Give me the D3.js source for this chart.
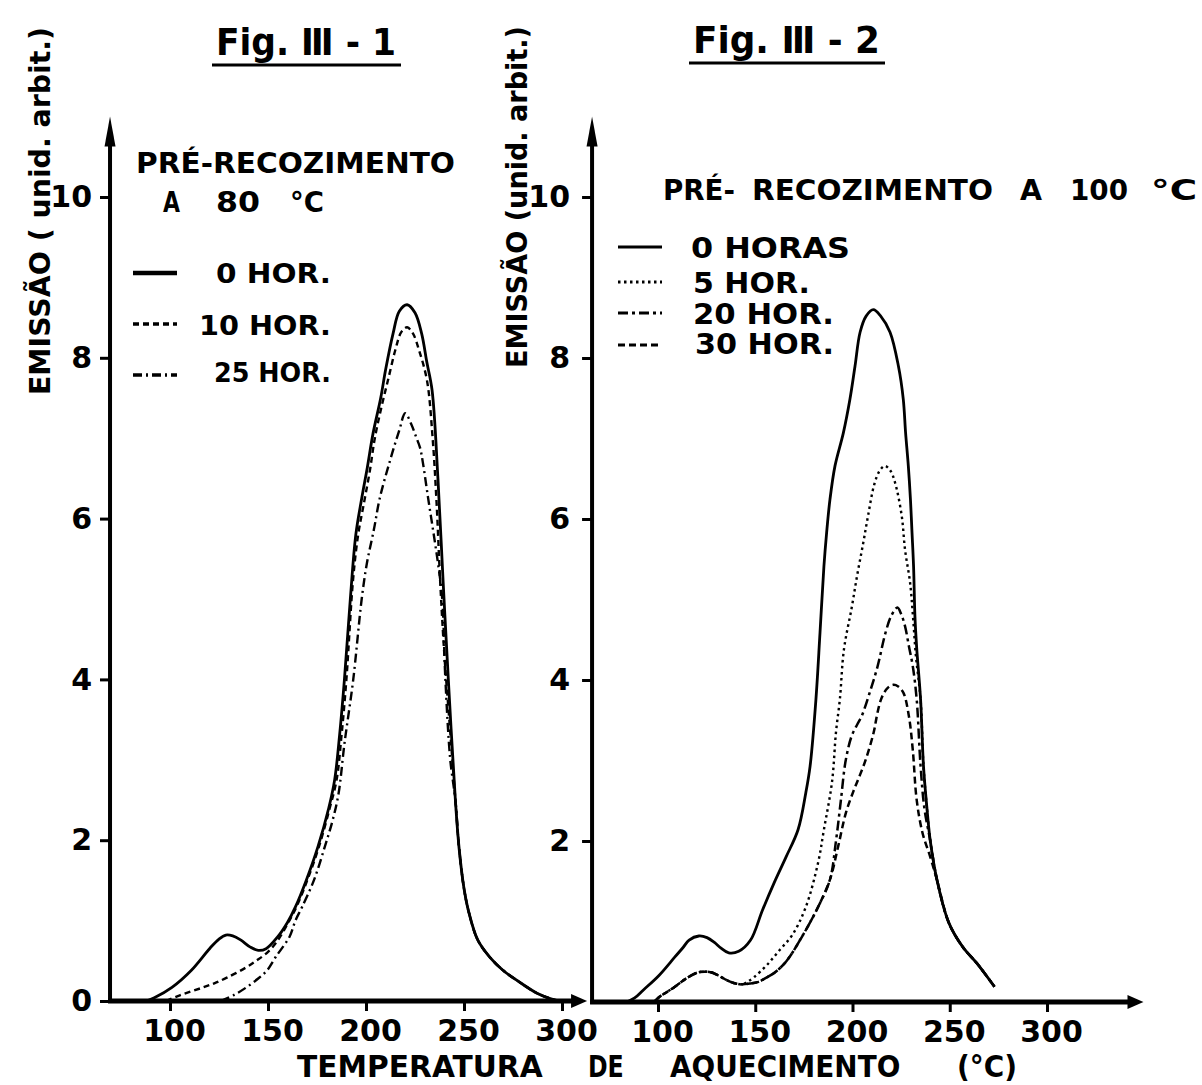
<!DOCTYPE html>
<html><head><meta charset="utf-8">
<script src="https://cdn.jsdelivr.net/npm/d3@7"></script>
<style>
body{margin:0;background:#fff}
svg{display:block;background:#fff}
text{font-family:"DejaVu Sans",sans-serif;font-weight:bold;fill:#000}
</style>
</head><body>
<svg id="c" width="1202" height="1085"></svg>
<script>
// ---------- data ----------
const xTickValues = [100, 150, 200, 250, 300];
const yTickValuesLeft = [0, 2, 4, 6, 8, 10];
const yTickValuesRight = [2, 4, 6, 8, 10];

const titleLeft = "Fig. Ⅲ - 1";
const titleRight = "Fig. Ⅲ - 2";
const yTitleLeft = "EMISSÃO ( unid. arbit.)";
const yTitleRight = "EMISSÃO (unid. arbit.)";
const xTitleWords = ["TEMPERATURA", "DE", "AQUECIMENTO", "(°C)"];

const legendTitleLeft = ["PRÉ-RECOZIMENTO", "A", "80", "°C"];
const legendLabelsLeft = ["0 HOR.", "10 HOR.", "25 HOR."];
const legendTitleRight = ["PRÉ-", "RECOZIMENTO", "A", "100", "°C"];
const legendLabelsRight = ["0 HORAS", "5 HOR.", "20 HOR.", "30 HOR."];

// Fig. III-1 : [temperature °C, emission]
const fig1_0h = [[88,0],[92,0.04],[101,0.17],[110.8,0.38],[120.5,0.66],[125,0.77],[128.5,0.82],[132,0.81],[136,0.76],[141,0.67],[145,0.63],[149,0.65],[155,0.8],[160,0.98],[164,1.17],[169.5,1.5],[175.5,1.92],[181,2.4],[184,2.75],[186.5,3.3],[189,4.0],[192,5.0],[194.8,5.8],[197.8,6.25],[200.7,6.64],[203.6,7.06],[207.5,7.5],[210,7.85],[213.8,8.3],[217,8.58],[221,8.66],[225,8.56],[228.4,8.3],[231,7.95],[233.7,7.6],[236.7,6.5],[239.3,5.24],[242,4.0],[245.6,2.5],[247.5,1.9],[250,1.4],[252.5,1.1],[257,0.76],[263,0.55],[270,0.38],[278,0.24],[287,0.1],[294,0.03],[299,0]];
const fig1_10h = [[98,0],[105,0.07],[117,0.17],[122.6,0.22],[129,0.29],[139,0.42],[144,0.5],[149.5,0.6],[154.6,0.74],[160,0.96],[164.5,1.17],[170,1.5],[176,1.92],[181.5,2.4],[185,2.75],[187.5,3.3],[190,4.0],[193.4,5.24],[196,5.8],[199,6.2],[202,6.6],[204.5,7.0],[208,7.4],[211.2,7.72],[215,8.1],[218,8.32],[221,8.38],[224,8.3],[227,8.1],[231.1,7.72],[234,7.0],[236,6.2],[237.8,5.24],[240,4.3],[242.5,3.5],[245.6,2.5],[247.5,1.9],[250,1.4],[252.5,1.1],[257,0.76],[263,0.55],[270,0.38],[278,0.24],[287,0.1],[294,0.03],[299,0]];
const fig1_25h = [[126,0],[133,0.08],[139,0.17],[145,0.28],[149.5,0.38],[154,0.55],[161,0.8],[164,1.0],[167.4,1.17],[173.4,1.5],[179,1.92],[183,2.25],[186,2.58],[189,3.2],[193.5,4.0],[197.8,5.0],[200.5,5.45],[204,5.86],[207,6.25],[212,6.7],[217,7.1],[220,7.31],[223,7.18],[225.5,7.02],[227.6,6.88],[229,6.7],[231.6,6.27],[234.2,5.86],[236.7,5.45],[238.8,5.03],[240.5,4.0],[243,3.0],[245.6,2.5],[247.5,1.9],[250,1.4],[252.5,1.1],[257,0.76],[263,0.55],[270,0.38],[278,0.24],[287,0.1],[294,0.03],[299,0]];

// Fig. III-2
const fig2_0h = [[84,0],[88,0.05],[92.5,0.15],[100.5,0.33],[108.7,0.56],[113,0.68],[116,0.77],[121,0.82],[125.2,0.8],[129,0.74],[132.4,0.67],[136.4,0.61],[141.5,0.63],[147.6,0.77],[153.7,1.14],[159.7,1.48],[165.8,1.8],[172,2.14],[176,2.6],[178.2,2.93],[181.2,3.76],[183.3,4.59],[185.3,5.41],[186.7,5.83],[188.4,6.24],[191,6.66],[195.3,7.07],[198.7,7.49],[201.3,7.9],[203.9,8.32],[207,8.52],[210.7,8.6],[214.5,8.52],[219.3,8.32],[223.6,7.9],[226.1,7.49],[227.3,7.07],[228.7,6.66],[229.8,6.24],[230.6,5.83],[231.4,5.41],[232.1,4.79],[233,4.4],[235,3.76],[236.5,2.93],[238.3,2.4],[240,2.0],[243.4,1.52],[249.6,0.98],[256.8,0.68],[264,0.48],[273,0.19]];
const fig2_5h = [[98,0],[100.5,0.06],[105,0.13],[108.7,0.19],[115,0.3],[121,0.37],[127,0.37],[131,0.33],[135.5,0.27],[140,0.23],[143.5,0.22],[146,0.25],[149.5,0.31],[156,0.46],[162.7,0.65],[169,0.83],[176,1.18],[182.3,1.73],[185.3,2.14],[189.5,2.74],[191.5,3.35],[193.5,3.76],[195.6,4.38],[199.6,4.9],[202.4,5.3],[205.5,5.7],[208,6.04],[211.2,6.43],[214,6.6],[216.7,6.66],[219.5,6.6],[221.9,6.45],[225.3,6.04],[227,5.62],[229.6,5.21],[231.1,4.79],[232.6,4.3],[235,3.76],[236.5,2.93],[238.3,2.4],[240,2.0],[243.4,1.52],[249.6,0.98],[256.8,0.68],[264,0.48],[273,0.19]];
const fig2_20h = [[98,0],[100.5,0.06],[105,0.13],[108.7,0.19],[115,0.3],[121,0.37],[127,0.37],[131,0.33],[135.5,0.27],[140,0.23],[143.5,0.22],[147.5,0.23],[151.7,0.25],[155.5,0.3],[159.7,0.36],[165.8,0.5],[174,0.81],[182.3,1.18],[188.4,1.52],[191.5,2.0],[194,2.5],[196.5,3.0],[199.5,3.3],[202.5,3.45],[204.7,3.55],[208.8,3.84],[212.9,4.17],[217,4.59],[220,4.8],[223.1,4.9],[225,4.82],[227,4.67],[229,4.42],[231,4.17],[233,3.76],[235,2.93],[237,2.4],[240,2.0],[243.4,1.52],[249.6,0.98],[256.8,0.68],[264,0.48],[273,0.19]];
const fig2_30h = [[98,0],[100.5,0.06],[105,0.13],[108.7,0.19],[115,0.3],[121,0.37],[127,0.37],[131,0.33],[135.5,0.27],[140,0.23],[143.5,0.22],[147.5,0.23],[151.7,0.25],[155.5,0.3],[159.7,0.36],[165.8,0.5],[174,0.81],[182.3,1.18],[188.4,1.52],[192.6,1.93],[196.6,2.35],[200.5,2.62],[203.5,2.8],[206.8,3.01],[210.9,3.35],[212.9,3.6],[215,3.78],[218,3.9],[221,3.94],[223.5,3.92],[226.2,3.84],[229,3.55],[231,3.13],[233,2.51],[236,2.1],[240,1.8],[243.4,1.52],[249.6,0.98],[256.8,0.68],[264,0.48],[273,0.19]];

// axis extents (data units)
const leftAxisT = [69.4, 312.8];
const rightAxisT = [66.1, 349.6];
const axisTopE = 11.0;

// ---------- drawing ----------
const svg = d3.select("#c");

const xL = d3.scaleLinear().domain([100, 300]).range([170, 562]);
const yL = d3.scaleLinear().domain([0, 10]).range([1001, 197]);
const xR = d3.scaleLinear().domain([100, 300]).range([658, 1047]);
const yR = d3.scaleLinear().domain([0, 10]).range([1002, 197]);

function drawAxes(x, y, tExt, yTicks, yPad) {
  const g = svg.append("g");
  const x0 = x(tExt[0]), x1 = x(tExt[1]), y0 = y(0), yTop = y(axisTopE);
  g.append("line").attr("x1", x0).attr("x2", x0).attr("y1", y0 + 2).attr("y2", yTop + 26)
    .attr("stroke", "#000").attr("stroke-width", 4);
  g.append("path").attr("d", `M${x0-5.5},${yTop+30} L${x0},${yTop} L${x0+5.5},${yTop+30} Z`).attr("fill", "#000");
  g.append("line").attr("x1", x0 - 2).attr("x2", x1 - 12).attr("y1", y0).attr("y2", y0)
    .attr("stroke", "#000").attr("stroke-width", 5);
  g.append("path").attr("d", `M${x1-16},${y0-7} L${x1},${y0} L${x1-16},${y0+7} Z`).attr("fill", "#000");

  const ax = g.append("g").attr("transform", `translate(0,${y0})`)
    .call(d3.axisBottom(x).tickValues(xTickValues).tickSize(10).tickPadding(9).tickFormat(d3.format("d")));
  ax.select(".domain").remove();
  ax.selectAll(".tick line").attr("stroke", "#000").attr("stroke-width", 3);
  ax.selectAll(".tick text").attr("font-size", 30).attr("dx", 4)
    .style("font-family", '"DejaVu Sans",sans-serif').style("font-weight", "bold").attr("fill", "#000");

  const ay = g.append("g").attr("transform", `translate(${x0},0)`)
    .call(d3.axisLeft(y).tickValues(yTicks).tickSize(10).tickPadding(yPad).tickFormat(d3.format("d")));
  ay.select(".domain").remove();
  ay.selectAll(".tick line").attr("stroke", "#000").attr("stroke-width", 3);
  ay.selectAll(".tick text").attr("font-size", 30)
    .style("font-family", '"DejaVu Sans",sans-serif').style("font-weight", "bold").attr("fill", "#000");
}

drawAxes(xL, yL, leftAxisT, yTickValuesLeft, 8);
drawAxes(xR, yR, rightAxisT, yTickValuesRight, 12);

function curve(x, y, data, dash, w) {
  const line = d3.line().x(d => x(d[0])).y(d => y(d[1])).curve(d3.curveCatmullRom.alpha(0.5));
  svg.append("path").attr("d", line(data)).attr("fill", "none").attr("stroke", "#000")
    .attr("stroke-width", w).attr("stroke-dasharray", dash).attr("stroke-linejoin", "round");
}

const dashL = [null, "6,4", "9,4,2,4"];
const dashR = [null, "2.5,3.5", "10,4,3,4", "7,4"];

curve(xL, yL, fig1_0h, dashL[0], 2.8);
curve(xL, yL, fig1_10h, dashL[1], 2.4);
curve(xL, yL, fig1_25h, dashL[2], 2.4);

curve(xR, yR, fig2_0h, dashR[0], 2.8);
curve(xR, yR, fig2_5h, dashR[1], 2.4);
curve(xR, yR, fig2_20h, dashR[2], 2.5);
curve(xR, yR, fig2_30h, dashR[3], 2.5);

// titles
function title(txt, x0, x1, base, uy) {
  svg.append("text").attr("x", x0).attr("y", base).attr("font-size", 38)
    .attr("textLength", x1 - x0).attr("lengthAdjust", "spacingAndGlyphs").text(txt);
  svg.append("line").attr("x1", x0 - 4).attr("x2", x1 + 5).attr("y1", uy).attr("y2", uy)
    .attr("stroke", "#000").attr("stroke-width", 3);
}
title(titleLeft, 216, 396, 55, 65);
title(titleRight, 693, 880, 53, 63);

// y titles
svg.append("text").attr("transform", "translate(50,395) rotate(-90)").attr("font-size", 29)
  .attr("textLength", 368).attr("lengthAdjust", "spacingAndGlyphs").text(yTitleLeft);
svg.append("text").attr("transform", "translate(527,368) rotate(-90)").attr("font-size", 29)
  .attr("textLength", 342).attr("lengthAdjust", "spacingAndGlyphs").text(yTitleRight);

// x title
const xt = svg.append("text").attr("y", 1077).attr("font-size", 30);
const xtPos = [[297, 256], [588, 44], [670, 240], [957, 60]];
xTitleWords.forEach((w, i) => {
  xt.append("tspan").attr("x", xtPos[i][0]).attr("textLength", xtPos[i][1])
    .attr("lengthAdjust", "spacingAndGlyphs").text(w + (i < xTitleWords.length - 1 ? " " : ""));
});

// legend left
function seg(txt, x, y, len, fs) {
  svg.append("text").attr("x", x).attr("y", y).attr("font-size", fs)
    .attr("textLength", len).attr("lengthAdjust", "spacingAndGlyphs").text(txt);
}
seg(legendTitleLeft[0], 136, 173, 319, 28);
seg(legendTitleLeft[1], 163, 212, 17, 28);
seg(legendTitleLeft[2], 216, 212, 44, 28);
seg(legendTitleLeft[3], 290, 212, 34, 28);
const legL = [[216, 283, 115, 273], [199, 335, 132, 324], [214, 382, 117, 375]];
const legLW = [4.5, 3.5, 3.5];
legendLabelsLeft.forEach((t, i) => {
  seg(t, legL[i][0], legL[i][1], legL[i][2], 27);
  svg.append("line").attr("x1", 133).attr("x2", 177).attr("y1", legL[i][3]).attr("y2", legL[i][3])
    .attr("stroke", "#000").attr("stroke-width", legLW[i]).attr("stroke-dasharray", dashL[i]);
});

// legend right
seg(legendTitleRight[0], 663, 200, 72, 28);
seg(legendTitleRight[1], 752, 200, 241, 28);
seg(legendTitleRight[2], 1020, 200, 22, 28);
seg(legendTitleRight[3], 1070, 200, 58, 28);
seg(legendTitleRight[4], 1151, 200, 46, 28);
const legR = [[691, 258, 159, 247], [693, 293, 117, 282], [693, 324, 141, 313], [695, 354, 139, 345]];
legendLabelsRight.forEach((t, i) => {
  seg(t, legR[i][0], legR[i][1], legR[i][2], 28);
  svg.append("line").attr("x1", 618).attr("x2", 662).attr("y1", legR[i][3]).attr("y2", legR[i][3])
    .attr("stroke", "#000").attr("stroke-width", 3.2).attr("stroke-dasharray", dashR[i]);
});
</script>
</body></html>
